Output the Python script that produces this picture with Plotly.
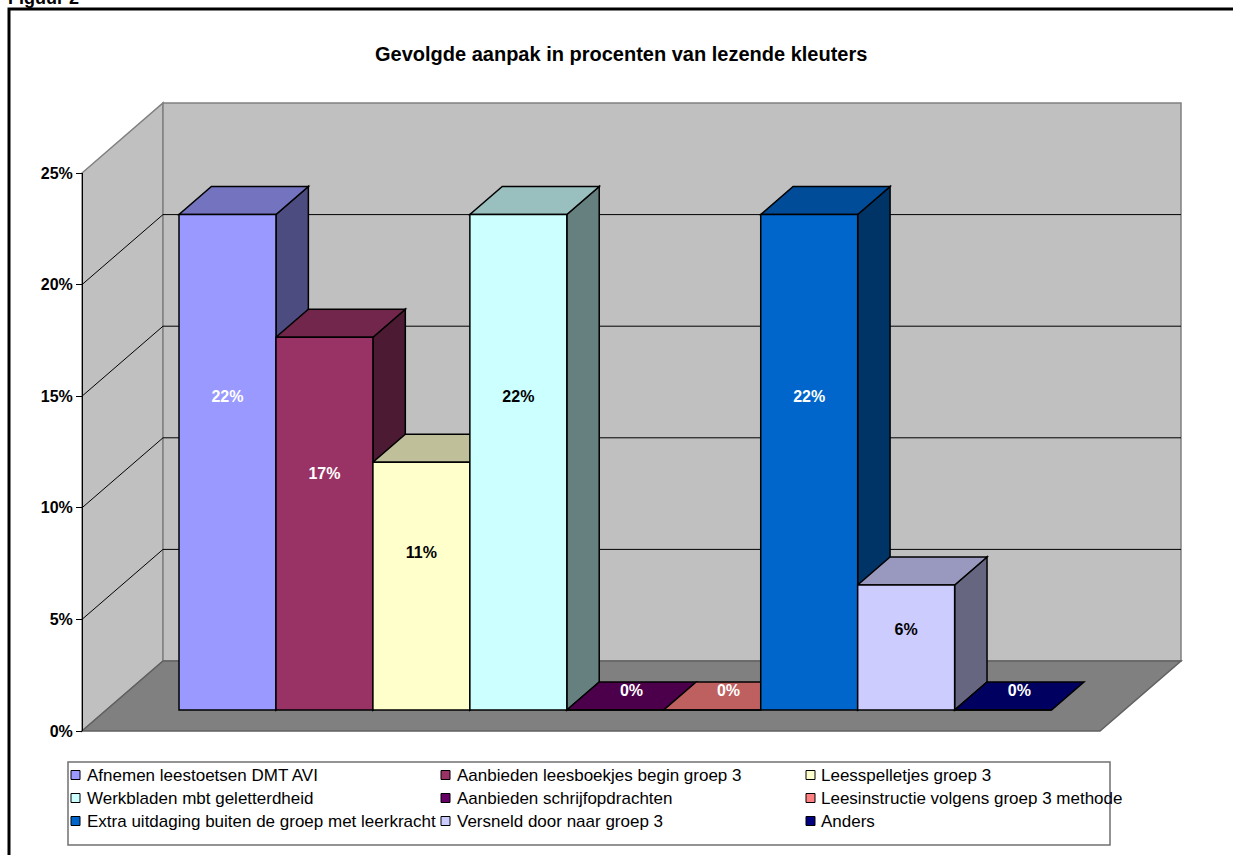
import plotly.graph_objects as go

# ---------------- data ----------------
categories = [
    "Afnemen leestoetsen DMT AVI",
    "Aanbieden leesboekjes begin groep 3",
    "Leesspelletjes groep 3",
    "Werkbladen mbt geletterdheid",
    "Aanbieden schrijfopdrachten",
    "Leesinstructie volgens groep 3 methode",
    "Extra uitdaging buiten de groep met leerkracht",
    "Versneld door naar groep 3",
    "Anders",
]
values = [22.2, 16.7, 11.1, 22.2, 0.0, 0.0, 22.2, 5.6, 0.0]
value_labels = ["22%", "17%", "11%", "22%", "0%", "0%", "22%", "6%", "0%"]
colors = ["#9999FF", "#993366", "#FFFFCC", "#CCFFFF", "#660066",
          "#FF8080", "#0066CC", "#CCCCFF", "#000080"]
label_colors = ["white", "white", "black", "black", "white",
                "white", "white", "black", "white"]
tick_values = [0, 5, 10, 15, 20, 25]
tick_labels = ["0%", "5%", "10%", "15%", "20%", "25%"]
title_text = "Gevolgde aanpak in procenten van lezende kleuters"
figure_label = "Figuur 2"

# ---------------- geometry (pixel layout of the pseudo-3D box) ----------------
W, H = 1233, 855
FONT = "Liberation Sans, Arial, sans-serif"
PX_PER_PCT = 22.32          # vertical pixels per percent
Y0_PX = 731                 # pixel row of the front 0% line
FX0, FX1 = 82, 1100         # front edge of the floor (pixels)
DX = 81                     # horizontal depth shift (pixels)
DY = 70 / PX_PER_PCT        # vertical depth shift (percent units)
D_FRONT, D_BACK = 0.3, 0.7  # depth of bar front and back planes
YMAX = 25

n = len(values)
bw = (FX1 - FX0) / (n + 1.5)   # gap width 150%


def P(x, y, d):
    return x + d * DX, y + d * DY


def path(pts):
    return "M " + " L ".join(f"{x:.2f},{y:.4f}" for x, y in pts) + " Z"


def path_open(pts):
    return "M " + " L ".join(f"{x:.2f},{y:.4f}" for x, y in pts)


def shade(hexcol, f):
    h = hexcol.lstrip("#")
    r, g, b = (int(h[i:i + 2], 16) for i in (0, 2, 4))
    return "#%02X%02X%02X" % (round(r * f), round(g * f), round(b * f))


def py(p):  # pixel row -> paper y
    return 1 - p / H


shapes = []
# left wall
shapes.append(dict(type="path", xref="x", yref="y", layer="below",
                   path=path([P(FX0, 0, 0), P(FX0, YMAX, 0), P(FX0, YMAX, 1), P(FX0, 0, 1)]),
                   fillcolor="#C0C0C0", line=dict(color="#808080", width=1.5)))
# back wall
shapes.append(dict(type="path", xref="x", yref="y", layer="below",
                   path=path([P(FX0, 0, 1), P(FX0, YMAX, 1), P(FX1, YMAX, 1), P(FX1, 0, 1)]),
                   fillcolor="#C0C0C0", line=dict(color="#808080", width=1.5)))
# floor
shapes.append(dict(type="path", xref="x", yref="y", layer="below",
                   path=path([P(FX0, 0, 0), P(FX1, 0, 0), P(FX1, 0, 1), P(FX0, 0, 1)]),
                   fillcolor="#808080", line=dict(color="#606060", width=1.5)))
# gridlines
for t in tick_values[1:-1]:
    shapes.append(dict(type="path", xref="x", yref="y", layer="below",
                       path=path_open([P(FX0, t, 0), P(FX0, t, 1), P(FX1, t, 1)]),
                       line=dict(color="black", width=1)))

# bar tops and sides (fronts are real bar traces)
centers = []
for i, v in enumerate(values):
    xl = FX0 + 0.75 * bw + i * bw
    xr = xl + bw
    centers.append(xl + bw / 2)
    if v > 0:
        shapes.append(dict(type="path", xref="x", yref="y", layer="below",
                           path=path([P(xr, 0, D_FRONT), P(xr, v, D_FRONT), P(xr, v, D_BACK), P(xr, 0, D_BACK)]),
                           fillcolor=shade(colors[i], 0.5), line=dict(color="black", width=1.5)))
    shapes.append(dict(type="path", xref="x", yref="y", layer="below",
                       path=path([P(xl, v, D_FRONT), P(xr, v, D_FRONT), P(xr, v, D_BACK), P(xl, v, D_BACK)]),
                       fillcolor=shade(colors[i], 0.75), line=dict(color="black", width=1.5)))

fig = go.Figure()

# front faces of bars
fig.add_trace(go.Bar(
    x=[c + D_FRONT * DX for c in centers], y=values, base=[D_FRONT * DY] * n,
    width=[bw] * n, marker=dict(color=colors, line=dict(color="black", width=1.5)),
    showlegend=False, hoverinfo="skip", xaxis="x", yaxis="y",
))

# data labels
lx, ly = [], []
for i, v in enumerate(values):
    if v > 0:
        x, y = P(centers[i], 0.63 * v, D_FRONT)
    else:
        x, y = P(centers[i], 0.2, 0.5)
    lx.append(x)
    ly.append(y)
fig.add_trace(go.Scatter(
    x=lx, y=ly, mode="text", text=value_labels,
    textfont=dict(family=FONT, size=16, color=label_colors, weight="bold"),
    showlegend=False, hoverinfo="skip", xaxis="x", yaxis="y",
))

# invisible trace to carry the visible value axis
fig.add_trace(go.Scatter(x=[FX0, FX0], y=[0, YMAX], mode="markers",
                         marker=dict(opacity=0), showlegend=False, hoverinfo="skip",
                         xaxis="x", yaxis="y2"))

# legend (drawn manually in Excel style, 3 columns)
col_marker_x = [71, 441, 806]
col_text_x = [85, 455, 819]
row_y = [775, 798, 821]
shapes.append(dict(type="rect", xref="paper", yref="paper",
                   x0=68 / W, x1=1110 / W, y0=py(845), y1=py(762),
                   fillcolor="white", line=dict(color="#707070", width=1.5), layer="above"))
annotations = []
for i, name in enumerate(categories):
    r, c = divmod(i, 3)
    mx, my = col_marker_x[c], row_y[r]
    shapes.append(dict(type="rect", xref="paper", yref="paper",
                       x0=mx / W, x1=(mx + 9) / W, y0=py(my + 4.5), y1=py(my - 4.5),
                       fillcolor=colors[i], line=dict(color="black", width=1), layer="above"))
    annotations.append(dict(xref="paper", yref="paper", x=col_text_x[c] / W, y=py(my),
                            xanchor="left", yanchor="middle", text=name, showarrow=False,
                            font=dict(family=FONT, size=17, color="black")))

# title
annotations.append(dict(xref="paper", yref="paper", x=621 / W, y=py(54),
                        xanchor="center", yanchor="middle", text=title_text, showarrow=False,
                        font=dict(family=FONT, size=20, color="black", weight="bold")))
# figure caption, cut off at the very top as in the source
annotations.append(dict(xref="paper", yref="paper", x=6 / W, y=py(10),
                        xanchor="left", yanchor="bottom", text=figure_label, showarrow=False,
                        font=dict(family=FONT, size=18, color="black", weight="bold")))

# outer frame
shapes.append(dict(type="rect", xref="paper", yref="paper",
                   x0=9 / W, x1=1.05, y0=-0.05, y1=py(9),
                   line=dict(color="black", width=3), layer="above"))

fig.update_layout(
    width=W, height=H,
    margin=dict(l=0, r=0, t=0, b=0, pad=0, autoexpand=False),
    paper_bgcolor="white", plot_bgcolor="rgba(0,0,0,0)",
    xaxis=dict(range=[0, W], visible=False, fixedrange=True, automargin=False),
    yaxis=dict(range=[(Y0_PX - H) / PX_PER_PCT, Y0_PX / PX_PER_PCT], visible=False,
               fixedrange=True, automargin=False),
    yaxis2=dict(domain=[py(Y0_PX), py(Y0_PX - YMAX * PX_PER_PCT)], range=[0, YMAX],
                anchor="free", position=FX0 / W, side="left", automargin=False,
                showline=True, linecolor="black", linewidth=1,
                ticks="outside", ticklen=6, tickcolor="black", tickwidth=1,
                tickvals=tick_values, ticktext=tick_labels,
                tickfont=dict(family=FONT, size=16, color="black", weight="bold"),
                showgrid=False, zeroline=False, fixedrange=True),
    shapes=shapes, annotations=annotations,
    showlegend=False,
)

post = (
    "document.documentElement.style.margin='0';"
    "document.documentElement.style.padding='0';"
    "document.documentElement.style.overflow='hidden';"
    "document.body.style.margin='0';"
    "document.body.style.padding='0';"
    "document.body.style.overflow='hidden';"
    "document.body.style.height='855px';"
    "var gd=document.getElementById('{plot_id}');"
    "gd.style.position='fixed';gd.style.top='0px';gd.style.left='0px';"
)

fig.write_html(
    "out.html",
    config={"displayModeBar": False, "staticPlot": True},
    post_script=post,
)
